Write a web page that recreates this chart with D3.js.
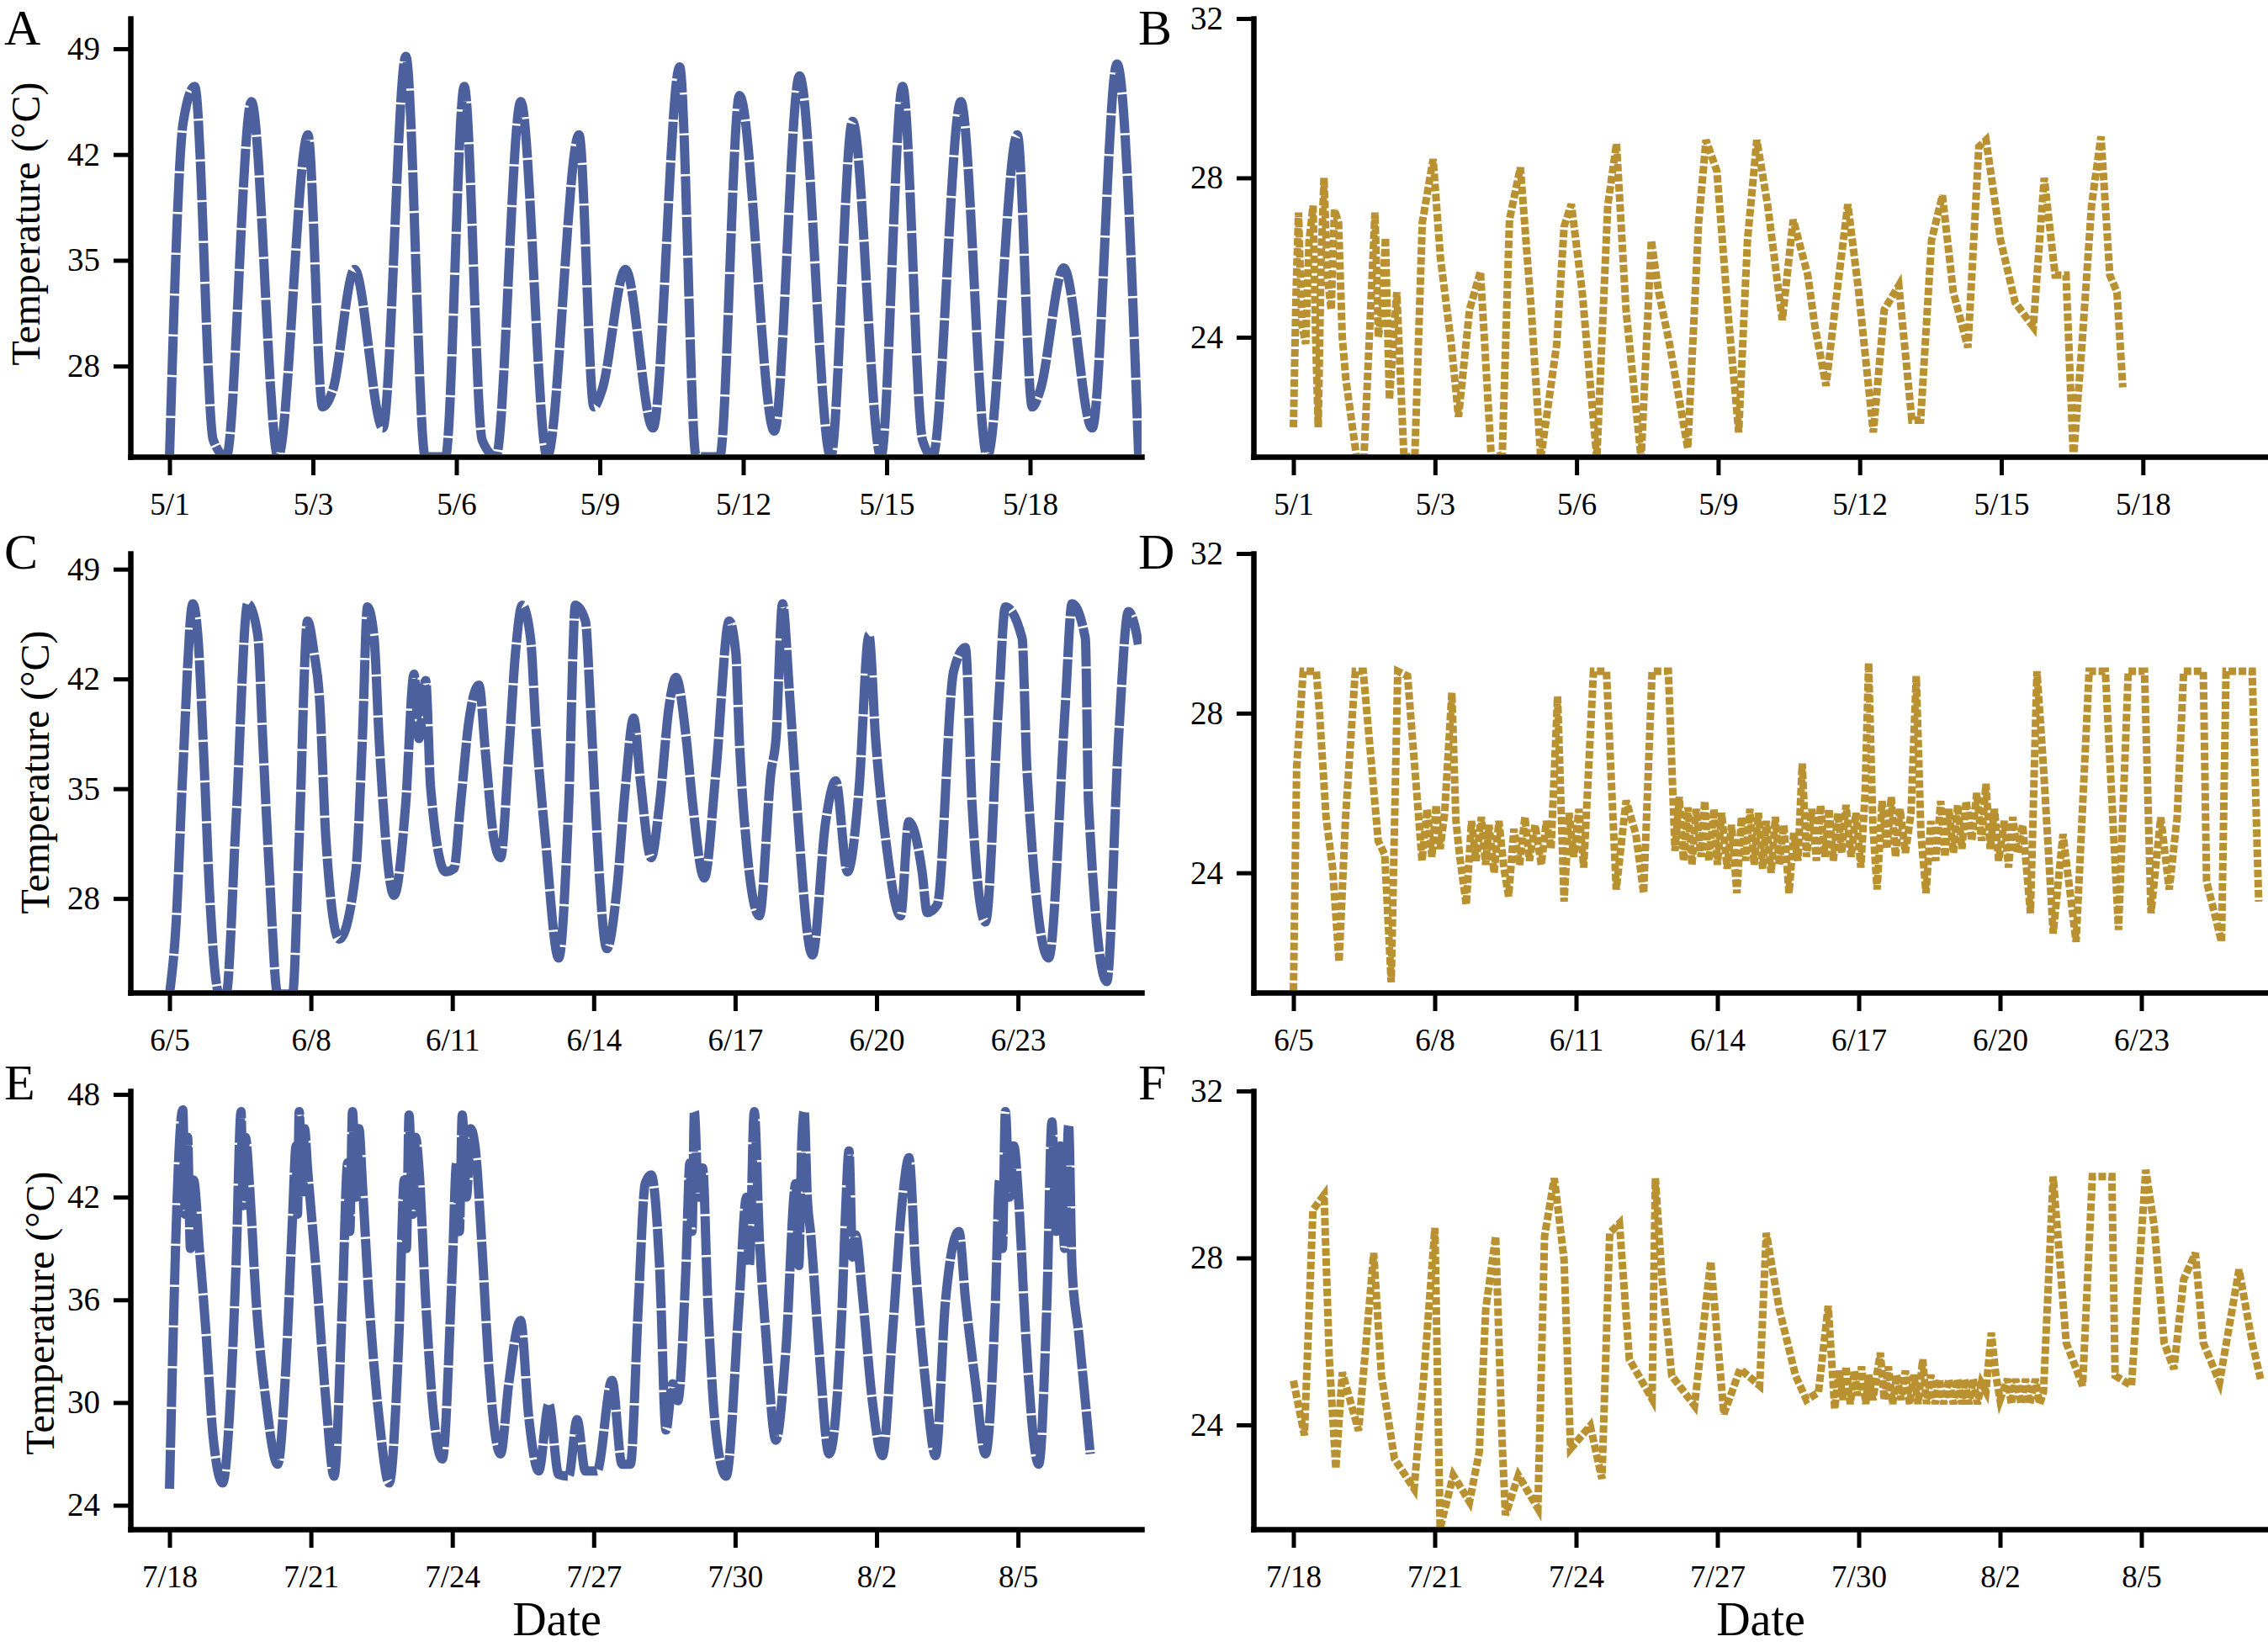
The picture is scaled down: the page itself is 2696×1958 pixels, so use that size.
<!DOCTYPE html>
<html>
<head>
<meta charset="utf-8">
<script src="https://cdn.jsdelivr.net/npm/d3@7"></script>
<style>
  body { margin: 0; background: #fff; }
  text { font-family: "Liberation Serif", "Times New Roman", serif; fill: #000; }
</style>
</head>
<body>
<div id="my_dataviz"></div>
<script>
// positions are in x-axis tick steps (0 = first date label), temperatures in °C

// Panel A: May, site 1
const aPos = [0, 0.095, 0.176, 0.305, 0.396, 0.571, 0.757, 0.965, 1.067, 1.138, 1.29, 1.487, 1.648, 1.783, 1.924, 2.055, 2.18, 2.276, 2.449, 2.633, 2.855, 2.959, 3.015, 3.179, 3.371, 3.557, 3.672, 3.836, 3.974, 4.217, 4.392, 4.61, 4.762, 4.96, 5.111, 5.25, 5.32, 5.517, 5.701, 5.911, 6.015, 6.07, 6.235, 6.433, 6.606, 6.757];
const aTemp = [22, 44.1, 46.5, 23.1, 22, 45.5, 22, 43.3, 25.3, 26.4, 34.4, 23.9, 48.5, 22, 22, 46.5, 23.1, 22, 45.5, 22, 43.3, 25.3, 26.4, 34.4, 23.9, 47.8, 22, 22, 45.9, 23.7, 47.2, 22, 44.2, 22, 46.5, 23.1, 22, 45.5, 22, 43.3, 25.3, 26.4, 34.5, 23.9, 48, 22];

// Panel B: May, site 2
const bPos = [0, 0.018, 0.036, 0.06, 0.087, 0.11, 0.139, 0.157, 0.175, 0.196, 0.216, 0.24, 0.267, 0.29, 0.319, 0.345, 0.37, 0.447, 0.498, 0.576, 0.6, 0.627, 0.65, 0.678, 0.73, 0.781, 0.858, 0.91, 0.987, 1.038, 1.115, 1.166, 1.244, 1.321, 1.398, 1.475, 1.526, 1.603, 1.68, 1.747, 1.86, 1.912, 1.963, 2.04, 2.143, 2.22, 2.282, 2.349, 2.456, 2.528, 2.58, 2.657, 2.785, 2.862, 2.914, 2.991, 3.068, 3.145, 3.207, 3.273, 3.35, 3.453, 3.53, 3.633, 3.684, 3.762, 3.839, 3.916, 3.993, 4.096, 4.173, 4.276, 4.368, 4.43, 4.507, 4.584, 4.661, 4.764, 4.841, 4.892, 4.995, 5.098, 5.226, 5.303, 5.38, 5.457, 5.509, 5.57, 5.637, 5.704, 5.766, 5.817, 5.858];
const bTemp = [21.74, 25.0, 27.13, 24.3, 23.83, 26.4, 27.3, 24.0, 21.74, 26.0, 28.0, 25.5, 24.69, 27.2, 26.87, 24.0, 22.96, 20.96, 20.96, 27.13, 24.0, 24.69, 26.5, 22.44, 25.13, 20.96, 21.05, 26.87, 28.47, 26.0, 23.83, 22.0, 24.69, 25.65, 20.96, 21.05, 26.95, 28.26, 24.69, 20.96, 23.83, 26.78, 27.34, 25.13, 20.96, 27.3, 28.86, 24.69, 20.96, 26.43, 25.13, 23.83, 21.22, 26.87, 28.95, 28.17, 24.69, 21.61, 26.43, 28.95, 27.3, 24.43, 26.95, 25.56, 24.26, 22.78, 25.13, 27.34, 25.13, 21.61, 24.69, 25.3, 21.92, 21.92, 26.43, 27.56, 25.13, 23.74, 28.78, 28.95, 26.43, 24.87, 24.26, 28.0, 25.56, 25.56, 20.96, 23.83, 27.3, 29.04, 25.56, 25.13, 22.74];

// Panel C: June, site 1
const cPos = [0, 0.047, 0.094, 0.165, 0.2, 0.247, 0.282, 0.353, 0.4, 0.47, 0.553, 0.624, 0.659, 0.706, 0.765, 0.87, 0.917, 0.976, 1.023, 1.059, 1.106, 1.2, 1.317, 1.364, 1.4, 1.447, 1.482, 1.588, 1.67, 1.729, 1.764, 1.811, 1.847, 1.952, 2.011, 2.058, 2.117, 2.188, 2.235, 2.294, 2.341, 2.399, 2.446, 2.494, 2.553, 2.588, 2.658, 2.752, 2.823, 2.87, 2.941, 2.976, 3.011, 3.093, 3.164, 3.223, 3.282, 3.33, 3.406, 3.465, 3.535, 3.581, 3.654, 3.7, 3.782, 3.864, 3.958, 4.005, 4.029, 4.076, 4.171, 4.254, 4.289, 4.335, 4.382, 4.429, 4.546, 4.64, 4.711, 4.794, 4.876, 4.946, 4.993, 5.064, 5.17, 5.228, 5.322, 5.358, 5.429, 5.545, 5.628, 5.675, 5.77, 5.863, 5.911, 6.029, 6.064, 6.217, 6.335, 6.382, 6.476, 6.499, 6.628, 6.711, 6.781, 6.828, 6.852];
const cTemp = [21.9, 26.5, 36.1, 46.8, 44.8, 36.1, 28.6, 21.9, 21.9, 32.9, 46.8, 44.8, 38.2, 29.7, 21.9, 21.9, 31.8, 45.7, 43.6, 41.0, 31.8, 25.4, 29.7, 38.2, 46.6, 44.6, 38.2, 28.2, 34.0, 42.3, 38.2, 41.9, 35.0, 29.7, 29.9, 34.0, 39.3, 41.6, 37.2, 31.8, 30.6, 37.2, 43.6, 46.7, 44.6, 39.3, 31.8, 24.2, 34.0, 46.7, 45.7, 40.4, 34.0, 24.8, 28.6, 35.0, 39.5, 35.5, 30.6, 34.0, 40.4, 42.1, 38.2, 34.0, 29.3, 36.1, 45.7, 43.6, 38.2, 31.8, 26.9, 36.1, 38.2, 46.8, 41.4, 35.0, 24.4, 32.9, 35.5, 29.7, 35.0, 44.8, 38.2, 31.8, 26.9, 32.9, 29.7, 27.1, 27.6, 42.5, 44.0, 34.0, 26.5, 40.4, 46.6, 44.6, 36.1, 24.2, 40.4, 46.8, 44.6, 34.0, 22.7, 38.2, 46.3, 45.3, 44.2];

// Panel D: June, site 2
const dPos = [
    0, 0.023, 0.069, 0.162, 0.185, 0.231, 0.277, 0.323, 0.369, 0.438, 0.494, 0.554, 0.6, 0.646, 0.692, 0.738, 0.808,
    0.877, 0.91, 0.946, 0.98, 1.01, 1.038, 1.07, 1.121, 1.15, 1.177, 1.223, 1.26, 1.292, 1.33, 1.36, 1.384, 1.42, 1.454, 1.49, 1.523, 1.56, 1.6, 1.638, 1.67, 1.71, 1.754, 1.79, 1.823, 1.869, 1.915, 1.95, 1.984, 2.02, 2.054,
    2.123, 2.215, 2.284, 2.354, 2.423, 2.478, 2.538, 2.653,
    2.7, 2.73, 2.76, 2.792, 2.82, 2.85, 2.884, 2.91, 2.94, 2.976,
    3.0, 3.03, 3.069, 3.1, 3.138, 3.17, 3.2, 3.23, 3.26, 3.29,
    3.32, 3.346, 3.38, 3.41, 3.438, 3.47, 3.507, 3.54, 3.57, 3.6,
    3.63, 3.669, 3.7, 3.73, 3.761, 3.79, 3.82, 3.853, 3.88, 3.91,
    3.946, 3.98, 4.015, 4.045, 4.07, 4.1, 4.13, 4.165, 4.199, 4.23,
    4.26, 4.292, 4.33, 4.37, 4.407, 4.44, 4.476, 4.51, 4.545, 4.58,
    4.61, 4.638, 4.67, 4.7, 4.73, 4.76, 4.8, 4.835, 4.869, 4.9,
    4.93, 4.961, 4.99, 5.03, 5.06, 5.09, 5.122, 5.16, 5.215,
    5.261, 5.307, 5.376, 5.445, 5.538, 5.63, 5.745, 5.838, 5.907, 6.022, 6.068, 6.137, 6.197, 6.253, 6.299, 6.438, 6.461, 6.567, 6.599, 6.784, 6.83
];
const dTemp = [
    21.05, 26.65, 29.05, 29.05, 28.0, 25.39, 24.13, 21.77, 25.39, 29.05, 29.05, 26.65, 24.8, 24.46, 21.26, 29.05, 28.93,
    25.81, 24.3, 25.6, 24.4, 25.7, 24.6, 25.5, 28.51, 25.3, 24.4, 23.2, 25.3, 24.3, 25.4, 24.2, 25.2, 24.0, 25.3, 24.1, 23.41, 25.1, 24.2, 25.4, 24.3, 25.2, 24.2, 25.3, 24.6, 28.42, 23.28, 25.5, 24.4, 25.6, 24.13,
    29.05, 29.05, 23.58, 25.81, 24.97, 23.49, 29.05, 29.05,
    24.55, 25.9, 24.3, 25.64, 24.2, 25.6, 24.4, 25.8, 24.3, 25.6,
    24.2, 25.5, 24.1, 25.2, 23.49, 25.4, 24.3, 25.6, 24.2, 25.5,
    24.1, 25.3, 24.0, 25.4, 24.2, 25.2, 23.49, 25.0, 24.3, 26.74,
    24.4, 25.6, 24.3, 25.7, 24.4, 25.6, 24.3, 25.5, 24.5, 25.7,
    24.4, 25.5, 24.13, 26.0, 29.26, 25.2, 23.58, 25.8, 24.6, 25.9,
    24.4, 25.6, 24.5, 25.5, 28.93, 25.0, 23.49, 25.3, 24.3, 25.8,
    24.4, 25.6, 24.5, 25.7, 24.6, 25.8, 24.8, 26.0, 24.8, 26.23,
    24.6, 25.6, 24.3, 25.3, 24.13, 25.4, 24.5, 25.2, 22.99,
    29.05, 26.65, 22.48, 24.97, 22.27, 29.05, 29.05, 22.57, 29.05, 29.05, 22.99, 25.39, 23.58, 25.39, 29.05, 29.05, 23.79, 22.27, 29.05, 29.05, 23.28
];

// Panel E: July-August, site 1
const ePos = [0, 0.094, 0.112, 0.128, 0.148, 0.17, 0.212, 0.259, 0.306, 0.376, 0.423, 0.47, 0.506, 0.52, 0.537, 0.565, 0.612, 0.682, 0.765, 0.823, 0.87, 0.895, 0.905, 0.917, 0.94, 0.955, 0.976, 1.035, 1.106, 1.164, 1.223, 1.26, 1.275, 1.294, 1.32, 1.34, 1.364, 1.411, 1.482, 1.553, 1.623, 1.66, 1.675, 1.694, 1.72, 1.74, 1.764, 1.811, 1.858, 1.929, 2.0, 2.03, 2.05, 2.07, 2.1, 2.13, 2.164, 2.211, 2.258, 2.341, 2.399, 2.482, 2.541, 2.611, 2.682, 2.752, 2.823, 2.882, 2.941, 3.023, 3.129, 3.2, 3.259, 3.317, 3.364, 3.406, 3.466, 3.511, 3.558, 3.594, 3.652, 3.68, 3.695, 3.712, 3.74, 3.77, 3.806, 3.865, 3.936, 4.029, 4.08, 4.1, 4.135, 4.17, 4.217, 4.288, 4.358, 4.429, 4.45, 4.47, 4.488, 4.51, 4.535, 4.594, 4.664, 4.758, 4.78, 4.805, 4.83, 4.852, 4.9, 4.97, 5.041, 5.112, 5.182, 5.229, 5.276, 5.347, 5.417, 5.488, 5.582, 5.629, 5.7, 5.77, 5.841, 5.87, 5.89, 5.911, 5.94, 5.97, 6.005, 6.054, 6.147, 6.205, 6.24, 6.27, 6.3, 6.33, 6.358, 6.382, 6.43, 6.511];
const eTemp = [24.97, 47.1, 41, 45.5, 39, 43, 38.9, 34.0, 28.2, 25.3, 29.1, 37.9, 47.0, 41.5, 45.5, 42.8, 36.0, 30.1, 26.4, 32.1, 40.8, 45, 41, 47.0, 42, 46, 43.7, 37.9, 30.1, 25.7, 36.0, 44, 40, 47.0, 42, 46, 42.8, 36.0, 29.1, 25.3, 34.0, 43, 39, 46.8, 41, 45.5, 43.7, 36.0, 30.1, 26.7, 37.9, 44, 40, 46.8, 42, 46, 44.7, 38.9, 32.1, 27.0, 31.1, 34.8, 29.1, 26.0, 29.9, 25.8, 25.7, 29.0, 26.0, 26.0, 31.3, 26.4, 26.4, 36.0, 42.8, 43.3, 37.9, 28.4, 31.1, 30.1, 37.9, 44, 40, 47.0, 42, 43.7, 36.0, 28.2, 25.7, 36.0, 42, 38, 47.0, 39.8, 34.0, 27.8, 33.0, 42.8, 38, 45, 47.0, 42, 39.8, 33.0, 27.0, 36.0, 41, 44.7, 38.5, 39.8, 36.3, 30.1, 26.9, 34.0, 41.8, 44.3, 37.9, 31.1, 26.9, 36.0, 40.0, 36.0, 31.1, 27.0, 36.0, 43, 39, 47.0, 42, 45, 41.8, 34.0, 26.4, 36.0, 46.4, 40, 45, 39, 46.2, 37.9, 34.0, 27.0];

// Panel F: July-August, site 2
const fPos = [
    0, 0.078, 0.138, 0.217, 0.254, 0.3, 0.346, 0.461, 0.568, 0.623, 0.715, 0.854, 0.923, 1.001, 1.038, 1.131, 1.246, 1.315, 1.361, 1.431, 1.477, 1.5, 1.592, 1.73, 1.777, 1.846, 1.915, 1.961, 2.1, 2.183, 2.238, 2.307, 2.377, 2.538, 2.561, 2.607, 2.677, 2.838, 2.953, 3.046, 3.161, 3.299, 3.346, 3.438, 3.553, 3.63, 3.715, 3.784,
    3.83, 3.86, 3.89, 3.91, 3.94, 3.97, 3.992, 4.02, 4.05, 4.07,
    4.1, 4.153, 4.18, 4.21, 4.24, 4.269, 4.3, 4.33, 4.36, 4.39,
    4.42, 4.453, 4.48, 4.51, 4.54, 4.57, 4.6, 4.638, 4.67, 4.7,
    4.73, 4.75, 4.78, 4.81, 4.84, 4.868, 4.9, 4.938, 4.97, 5.0,
    5.053, 5.08, 5.11, 5.15, 5.18, 5.21, 5.25, 5.28, 5.307,
    5.376, 5.468, 5.584, 5.653, 5.791, 5.814, 5.93, 6.031, 6.091, 6.161, 6.23, 6.299, 6.382, 6.438, 6.553, 6.691, 6.784, 6.843
];
const fTemp = [
    25.06, 23.75, 29.15, 29.51, 25.57, 22.95, 25.26, 23.86, 28.12, 25.18, 23.19, 22.47, 25.18, 28.72, 21.52, 22.79, 22.16, 23.35, 26.77, 28.52, 23.59, 21.84, 22.79, 22.0, 28.52, 29.91, 27.96, 23.43, 23.98, 22.71, 28.6, 28.83, 25.57, 24.62, 29.91, 27.56, 25.18, 24.46, 27.92, 24.26, 25.34, 24.94, 28.6, 26.77, 25.18, 24.6, 24.78, 26.85,
    24.38, 25.3, 24.6, 25.4, 24.5, 25.3, 24.7, 25.4, 24.5, 25.2,
    24.6, 25.73, 24.6, 25.4, 24.5, 25.2, 24.6, 25.3, 24.5, 25.2,
    24.5, 25.57, 24.5, 25.2, 24.5, 25.1, 24.5, 25.1, 24.5, 25.1,
    24.5, 25.1, 24.5, 25.1, 24.5, 25.0, 24.8, 26.21, 25.2, 24.6,
    25.1, 24.5, 25.1, 24.5, 25.1, 24.5, 25.1, 24.5, 24.78,
    29.95, 25.97, 24.94, 29.95, 29.95, 25.18, 24.94, 30.11, 28.76, 25.97, 25.34, 27.48, 28.12, 25.97, 25.02, 27.72, 25.97, 25.1
];

// axis ticks and labels
const mayLabels = ["5/1", "5/3", "5/6", "5/9", "5/12", "5/15", "5/18"];
const juneLabels = ["6/5", "6/8", "6/11", "6/14", "6/17", "6/20", "6/23"];
const julyLabels = ["7/18", "7/21", "7/24", "7/27", "7/30", "8/2", "8/5"];
const hotTicks = [28, 35, 42, 49];
const lateTicks = [24, 30, 36, 42, 48];
const coolTicks = [24, 28, 32];

// Set the dimensions of the figure
const width = 2696;
const height = 1958;
const blue = "#4d609e";
const gold = "#b99131";

const cols = [
    { x0: 155, x1: 1357, tick0: 201.5 },
    { x0: 1490, x1: 2696, tick0: 1537.5 }
];
const rows = [
    { top: 22, bottom: 543, letterY: 53 },
    { top: 658, bottom: 1180, letterY: 676 },
    { top: 1297, bottom: 1818, letterY: 1307 }
];

const panels = [
    { id: "A", col: 0, row: 0, pos: aPos, temp: aTemp, yDomain: [22, 51], yTicks: hotTicks, labels: mayLabels, step: 170.5, color: blue, titleX: 47, titleY: 266 },
    { id: "B", col: 1, row: 0, pos: bPos, temp: bTemp, yDomain: [21, 32], yTicks: coolTicks, labels: mayLabels, step: 168.3, color: gold },
    { id: "C", col: 0, row: 1, pos: cPos, temp: cTemp, yDomain: [22, 50], yTicks: hotTicks, labels: juneLabels, step: 168.1, color: blue, titleX: 58, titleY: 918 },
    { id: "D", col: 1, row: 1, pos: dPos, temp: dTemp, yDomain: [21, 32], yTicks: coolTicks, labels: juneLabels, step: 168.0, color: gold },
    { id: "E", col: 0, row: 2, pos: ePos, temp: eTemp, yDomain: [22.6, 48.2], yTicks: lateTicks, labels: julyLabels, step: 168.1, color: blue, titleX: 64, titleY: 1561 },
    { id: "F", col: 1, row: 2, pos: fPos, temp: fTemp, yDomain: [21.5, 32], yTicks: coolTicks, labels: julyLabels, step: 168.0, color: gold }
];

const svg = d3
    .select("#my_dataviz")
    .append("svg")
    .attr("width", width)
    .attr("height", height);

panels.forEach((p) => {
    const c = cols[p.col];
    const r = rows[p.row];
    const isBlue = p.color === blue;
    if (p.pos.length !== p.temp.length) console.warn("length mismatch in panel", p.id);

    const x = d3
        .scaleLinear()
        .domain([(c.x0 - c.tick0) / p.step, (c.x1 - c.tick0) / p.step])
        .range([c.x0, c.x1]);
    const y = d3.scaleLinear().domain(p.yDomain).range([r.bottom, r.top]);

    // keep the trace inside the plot area
    svg.append("clipPath")
        .attr("id", "clip" + p.id)
        .append("rect")
        .attr("x", c.x0)
        .attr("y", r.top - 20)
        .attr("width", c.x1 - c.x0)
        .attr("height", r.bottom - r.top + 17);

    const line = d3
        .line()
        .x((d) => x(d[0]))
        .y((d) => y(d[1]))
        .curve(isBlue ? d3.curveMonotoneX : d3.curveLinear);

    svg.append("path")
        .datum(d3.zip(p.pos, p.temp))
        .attr("clip-path", `url(#clip${p.id})`)
        .attr("d", line)
        .style("fill", "none")
        .style("stroke", p.color)
        .style("stroke-width", isBlue ? 11 : 9)
        .style("stroke-dasharray", isBlue ? "46 2.5" : "9 3")
        .style("stroke-linejoin", "miter");

    // y axis
    const gy = svg
        .append("g")
        .attr("transform", `translate(${c.x0},0)`)
        .call(
            d3.axisLeft(y).tickValues(p.yTicks).tickFormat(d3.format("d"))
                .tickSize(20).tickSizeOuter(0).tickPadding(16)
        );

    // x axis
    const gx = svg
        .append("g")
        .attr("transform", `translate(0,${r.bottom})`)
        .call(
            d3.axisBottom(x).tickValues(d3.range(p.labels.length))
                .tickFormat((d, i) => p.labels[i])
                .tickSize(22).tickSizeOuter(0)
        );
    gx.selectAll(".tick text").attr("y", 69).attr("dy", null);

    [gy, gx].forEach((g) => {
        g.attr("font-family", null);
        g.select(".domain").style("stroke", "#000").style("stroke-width", 6.5).style("stroke-linecap", "square");
        g.selectAll(".tick line").style("stroke", "#000").style("stroke-width", 5);
        g.selectAll(".tick text")
            .style("font-family", '"Liberation Serif", "Times New Roman", serif')
            .style("fill", "#000");
    });
    gx.selectAll(".tick text").style("font-size", "37px");
    gy.selectAll(".tick text").style("font-size", "39px");

    // panel letter
    svg.append("text")
        .attr("x", p.col === 0 ? 5 : 1353)
        .attr("y", r.letterY)
        .style("font-size", "60px")
        .text(p.id);

    // y axis title on the left column
    if (p.titleX) {
        svg.append("text")
            .attr("transform", `translate(${p.titleX},${p.titleY}) rotate(-90)`)
            .attr("text-anchor", "middle")
            .style("font-size", "48px")
            .text("Temperature (°C)");
    }
});

// x axis titles under the bottom row
[662, 2093].forEach((cx) => {
    svg.append("text")
        .attr("x", cx)
        .attr("y", 1944)
        .attr("text-anchor", "middle")
        .style("font-size", "56px")
        .text("Date");
});
</script>
</body>
</html>
